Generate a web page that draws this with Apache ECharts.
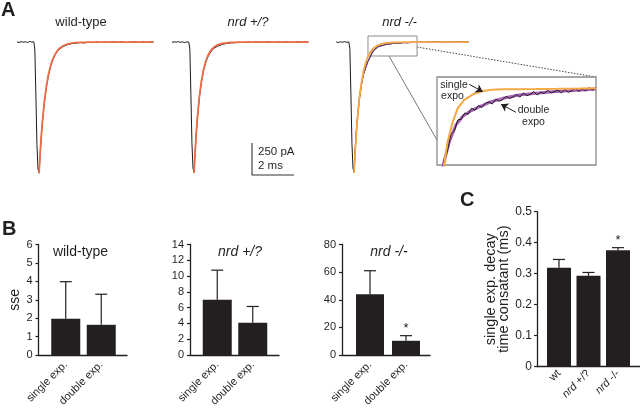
<!DOCTYPE html>
<html><head><meta charset="utf-8">
<script src="https://cdn.jsdelivr.net/npm/echarts/dist/echarts.min.js"></script>
<style>html,body{margin:0;padding:0;background:#fff}#c{width:640px;height:408px}</style>
</head><body><div id="c"></div>
<script>
// ---------------- DATA ----------------
// Panel A: time (ms) and current (pA) samples
const traceTime = [0, 0.1, 0.2, 0.3, 0.4, 0.5, 0.6, 0.7, 0.8, 0.85, 0.9, 0.95, 1.0, 1.05, 1.1, 1.15, 1.2, 1.3, 1.4, 1.5, 1.6, 1.7, 1.8, 1.9, 2.0, 2.2, 2.4, 2.6, 2.8, 3.0, 3.2, 3.4, 3.6, 3.8, 4.0, 4.2, 4.4, 4.6, 4.8, 5.0, 5.2, 5.4, 5.6, 5.8, 6.0, 6.2, 6.4, 6.5];
const wtData = [2, -3, 4, 0, 3, -2, 5, 1, 3, -60, -420, -800, -990, -1015, -880, -750, -645, -475, -350, -258, -190, -140, -104, -78, -58, -34, -20, -12, -8, -3, -6, 0, -4, 2, -3, 1, -2, 3, -1, 2, -3, 1, 3, -2, 2, -1, 3, 1];
const wtFit = [null, null, null, null, null, null, null, null, null, null, null, null, null, -1025, -875, -747, -638, -467, -342, -250, -183, -134, -98, -72, -52, -28, -15, -8, -4, -2, -1, 0, 0, 0, 0, 0, 0, 0, 0, 0, 0, 0, 0, 0, 0, 0, 0, 0];
const hetData = [-2, 3, 0, 4, -1, 2, -3, 2, 1, -55, -410, -790, -985, -1012, -862, -725, -612, -436, -312, -224, -162, -118, -87, -64, -48, -29, -17, -10, -6, -4, -1, -3, 1, -2, 2, -1, 0, 3, -2, 1, -1, 2, 0, -2, 3, 0, 2, 1];
const hetFit = [null, null, null, null, null, null, null, null, null, null, null, null, null, -1022, -859, -722, -608, -431, -305, -216, -153, -108, -77, -54, -38, -19, -10, -5, -2, -1, 0, 0, 0, 0, 0, 0, 0, 0, 0, 0, 0, 0, 0, 0, 0, 0, 0, 0];
const koData = [null, null, 2, -2, 3, 0, 4, -1, 2, -50, -400, -790, -985, -1018, -852, -718, -612, -447, -333, -250, -203, -152, -123, -84, -62, -33, -27, -15, -14, -6, -9, -3, -5, 0, -3, 1, -2, 2, -1, 3, 0, -2, 2, -1, 3, 0, 2, 1];
const koDoubleFit = [null, null, null, null, null, null, null, null, null, null, null, null, null, -1015, -850, -720, -610, -445, -330, -248, -200, -155, -120, -86, -60, -35, -24, -17, -12, -8.5, -6.5, -4.5, -3, -2, -1.5, -1, -0.5, -0.5, 0, 0, 0, 0, 0, 0, 0, 0, 0, 0];
const koSingleFit = [null, null, null, null, null, null, null, null, null, null, null, null, null, -1020, -863, -731, -619, -443, -318, -228, -163, -117, -84, -60, -43, -22, -11, -6, -3, -1.5, -1, 0, 0, 0, 0, 0, 0, 0, 0, 0, 0, 0, 0, 0, 0, 0, 0, 0];

// Inset (zoom on nrd -/- decay tail)
const insetSingleTime = [1.80, 1.85, 1.905, 1.977, 2.05, 2.145, 2.27, 2.41, 2.55, 2.70, 2.90, 3.18, 3.50, 3.80, 4.05];
const insetSingle = [-135, -110, -76, -48, -28, -16, -8, -3.2, -1.5, -0.8, -0.5, -0.3, 0, 0.3, 0.7];
const insetDoubleTime = [1.80, 1.84, 1.93, 2.025, 2.12, 2.22, 2.36, 2.51, 2.70, 2.94, 3.18, 3.42, 3.66, 3.91, 4.05];
const insetDouble = [-140, -110, -76, -52, -40, -33, -26, -19.5, -13.8, -9, -6.6, -4.2, -2.8, -1.3, -0.3];
const insetDataTime = [1.80, 1.85, 1.90, 1.95, 2.00, 2.05, 2.10, 2.15, 2.20, 2.25, 2.30, 2.35, 2.40, 2.45, 2.50, 2.55, 2.60, 2.65, 2.70, 2.75, 2.80, 2.85, 2.90, 2.95, 3.00, 3.05, 3.10, 3.15, 3.20, 3.25, 3.30, 3.35, 3.40, 3.45, 3.50, 3.55, 3.60, 3.65, 3.70, 3.75, 3.80, 3.85, 3.90, 3.95, 4.00, 4.05];
const insetData = [-140, -103, -90, -66, -61, -45, -44, -35, -37, -28, -31, -24, -27, -21, -19, -22, -15, -18, -16, -11, -14, -12, -8, -12, -6, -10, -8, -4, -9, -5, -7, -2, -6, -4, -2, -6, -1, -5, -3, 1, -4, 0, -3, 2, -2, 2];

// Panel B: sum of squared errors (mean, mean+SEM)
const sseCategories = ['single exp.', 'double exp.'];
const sseWt = [1.97, 1.64], sseWtErr = [3.98, 3.3], sseWtSig = [0, 0];
const sseHet = [7.0, 4.1], sseHetErr = [10.75, 6.15], sseHetSig = [0, 0];
const sseKo = [44, 10.3], sseKoErr = [61, 14], sseKoSig = [0, 1];
const sseWtTicks = {max: 6, step: 1};
const sseHetTicks = {max: 14, step: 2};
const sseKoTicks = {max: 80, step: 20};

// Panel C: single exponential decay time constant (ms)
const tauCategories = ['wt', 'nrd +/?', 'nrd -/-'];
const tauValues = [0.319, 0.293, 0.376];
const tauErr = [0.346, 0.304, 0.384];
const tauSig = [0, 0, 1];
const tauTicks = {max: 0.5, step: 0.1};

// Scale bar sizes
const scaleBar = {ms: 2, pA: 250};

// ---------------- LAYOUT / STYLE ----------------
const FONT = '"Liberation Sans", Arial, Helvetica, sans-serif';
const INK = '#231f20';
const FIT_RED = '#ee6b47';
const FIT_ORANGE = '#f5a843';
const FIT_PURPLE = '#a963b8';
const TRACE_X = {min: 0, max: 6.5};
const TRACE_Y = {min: -1060, max: 95};
const INSET_X = {min: 1.75, max: 4.05};
const INSET_Y = {min: -110, max: 17};
const ZOOM_BOX = {t0: 1.714, t1: 4.05, v0: -108, v1: 48};
const SCALE_ORIGIN = {t: 3.81, pA: -1037};

const zip = (xs, ys) => xs.map((x, i) => [x, ys[i] === null ? '-' : ys[i]]);

const chart = echarts.init(document.getElementById('c'), null, {renderer: 'canvas'});

const G = (left, top, width, height, extra) => Object.assign({left, top, width, height, outerBoundsMode: 'none', containLabel: false}, extra || {});
const grids = [
  G(17, 30, 136.5, 148),
  G(172, 30, 136.5, 148),
  G(332, 30, 136.5, 148),
  G(437, 77, 159, 88, {show: true, backgroundColor: '#fff', borderColor: '#8a8a8a', borderWidth: 1.3}),
  G(38.5, 244.5, 88.5, 110.5),
  G(190, 244.5, 89, 110.5),
  G(342, 244.5, 88, 110.5),
  G(48, 244.5, 71, 110.5),
  G(199.5, 244.5, 71, 110.5),
  G(352, 244.5, 72, 110.5),
  G(537, 211.7, 103, 155),
  G(544.25, 211.7, 88.5, 155)
];

const hiddenVal = (gi, r) => ({type: 'value', gridIndex: gi, min: r.min, max: r.max, show: false});
const lineAx = {show: true, lineStyle: {color: INK, width: 1.3}};

const frameX = gi => ({type: 'value', gridIndex: gi, min: 0, max: 1, axisLine: lineAx, axisTick: {show: false}, axisLabel: {show: false}, splitLine: {show: false}});
const frameY = (gi, t, extra) => Object.assign({type: 'value', gridIndex: gi, min: 0, max: t.max, interval: t.step,
  axisLine: lineAx, axisTick: {show: true, length: 3, lineStyle: {color: INK, width: 1.2}},
  axisLabel: {color: INK, fontFamily: FONT, fontSize: 11, margin: 6}, splitLine: {show: false}}, extra || {});
const barsX = (gi, cats, fs, margin, fmt) => ({type: 'category', gridIndex: gi, data: cats, axisLine: {show: false}, axisTick: {show: false},
  axisLabel: {rotate: 45, color: INK, fontFamily: FONT, fontSize: fs, margin, interval: 0, formatter: fmt,
    rich: {i: {fontStyle: 'italic', fontFamily: FONT, fontSize: fs, color: INK}, n: {fontFamily: FONT, fontSize: fs, color: INK}}}});
const barsY = (gi, t) => ({type: 'value', gridIndex: gi, min: 0, max: t.max, show: false});

const xAxis = [
  hiddenVal(0, TRACE_X), hiddenVal(1, TRACE_X), hiddenVal(2, TRACE_X), hiddenVal(3, INSET_X),
  frameX(4), frameX(5), frameX(6),
  barsX(7, sseCategories, 11, 8), barsX(8, sseCategories, 11, 8), barsX(9, sseCategories, 11, 8),
  frameX(10),
  barsX(11, tauCategories, 11, 5, v => v.indexOf('nrd') === 0 ? '{i|nrd}{n|' + v.slice(3) + '}' : '{n|' + v + '}')
];
const yAxis = [
  hiddenVal(0, TRACE_Y), hiddenVal(1, TRACE_Y), hiddenVal(2, TRACE_Y), hiddenVal(3, INSET_Y),
  frameY(4, sseWtTicks, {name: 'sse', nameLocation: 'middle', nameRotate: 90, nameGap: 16, nameTextStyle: {color: INK, fontFamily: FONT, fontSize: 14}}),
  frameY(5, sseHetTicks), frameY(6, sseKoTicks),
  barsY(7, sseWtTicks), barsY(8, sseHetTicks), barsY(9, sseKoTicks),
  frameY(10, tauTicks, {axisLabel: {color: INK, fontFamily: FONT, fontSize: 12, margin: 5},
    name: 'single exp. decay\ntime consatant (ms)', nameLocation: 'middle', nameRotate: 90, nameGap: 27,
    nameTextStyle: {color: INK, fontFamily: FONT, fontSize: 14.5, lineHeight: 13}}),
  barsY(11, tauTicks)
];

const traceLine = (ai, xs, ys, color, width, extra) => Object.assign({
  type: 'line', xAxisIndex: ai, yAxisIndex: ai, data: zip(xs, ys), symbol: 'none', showSymbol: false,
  lineStyle: {color, width}, silent: true, clip: true
}, extra || {});

function errorRenderer(cap) {
  return function (params, api) {
    const i = api.value(0);
    const a = api.coord([i, api.value(1)]);
    const b = api.coord([i, api.value(2)]);
    const st = {stroke: INK, lineWidth: 1.2};
    const kids = [
      {type: 'line', shape: {x1: a[0], y1: a[1], x2: b[0], y2: b[1]}, style: st},
      {type: 'line', shape: {x1: b[0] - cap / 2, y1: b[1], x2: b[0] + cap / 2, y2: b[1]}, style: st}
    ];
    if (api.value(3)) {
      kids.push({type: 'text', x: b[0], y: b[1] - 1, style: {text: '*', font: '13px ' + FONT, fill: INK,
        align: 'center', verticalAlign: 'bottom', textAlign: 'center', textVerticalAlign: 'bottom'}});
    }
    return {type: 'group', children: kids};
  };
}
const barSeries = (ai, vals, bw) => ({type: 'bar', xAxisIndex: ai, yAxisIndex: ai, data: vals, barWidth: bw, silent: true,
  itemStyle: {color: INK}});
const errSeries = (ai, vals, errs, sig, cap) => ({type: 'custom', xAxisIndex: ai, yAxisIndex: ai, silent: true,
  renderItem: errorRenderer(cap), encode: {x: 0, y: 2},
  data: vals.map((v, i) => [i, v, errs[i], sig[i]]), z: 3});

const series = [
  traceLine(0, traceTime, wtData, '#1a1a1a', 1),
  traceLine(0, traceTime, wtFit, FIT_RED, 1.8),
  traceLine(1, traceTime, hetData, '#1a1a1a', 1),
  traceLine(1, traceTime, hetFit, FIT_RED, 1.8),
  // scale bar
  traceLine(1, [SCALE_ORIGIN.t, SCALE_ORIGIN.t, SCALE_ORIGIN.t + scaleBar.ms],
    [SCALE_ORIGIN.pA + scaleBar.pA, SCALE_ORIGIN.pA, SCALE_ORIGIN.pA], '#333', 1.1),
  traceLine(2, traceTime, koData, '#1a1a1a', 1, {
    markArea: {silent: true, itemStyle: {color: 'rgba(0,0,0,0)', borderColor: '#8a8a8a', borderWidth: 1},
      data: [[{coord: [ZOOM_BOX.t0, ZOOM_BOX.v1]}, {coord: [ZOOM_BOX.t1, ZOOM_BOX.v0]}]]}
  }),
  traceLine(2, traceTime, koDoubleFit, '#6b3a78', 1.2),
  traceLine(2, traceTime, koSingleFit, FIT_ORANGE, 1.8),
  // inset
  traceLine(3, insetDoubleTime, insetDouble, FIT_PURPLE, 3),
  traceLine(3, insetDataTime, insetData, '#1a1a1a', 1),
  traceLine(3, insetSingleTime, insetSingle, FIT_ORANGE, 2, {
    markLine: {silent: true, symbol: ['none', 'arrow'], symbolSize: 7, animation: false,
      lineStyle: {color: INK, width: 1, type: 'solid'}, label: {show: false},
      data: [[{coord: [2.217, 6.5]}, {coord: [2.411, -4.2]}], [{coord: [2.893, -34]}, {coord: [2.676, -22.4]}]]}
  }),
  barSeries(7, sseWt, 29), errSeries(7, sseWt, sseWtErr, sseWtSig, 12),
  barSeries(8, sseHet, 29), errSeries(8, sseHet, sseHetErr, sseHetSig, 12),
  barSeries(9, sseKo, 28), errSeries(9, sseKo, sseKoErr, sseKoSig, 12),
  barSeries(11, tauValues, 24), errSeries(11, tauValues, tauErr, tauSig, 12)
];

const txt = (text, x, y, size, opts) => Object.assign({type: 'text', x, y, silent: true,
  style: Object.assign({text, font: size + 'px ' + FONT, fill: INK, align: 'center', verticalAlign: 'middle',
    textAlign: 'center', textVerticalAlign: 'middle'}, (opts && opts.style) || {})}, {});

const graphics = [
  txt('A', 1, 10, 20, {style: {font: 'bold 20px ' + FONT, align: 'left', textAlign: 'left'}}),
  txt('B', 2, 229, 20, {style: {font: 'bold 20px ' + FONT, align: 'left', textAlign: 'left'}}),
  txt('C', 460, 200, 20, {style: {font: 'bold 20px ' + FONT, align: 'left', textAlign: 'left'}}),
  txt('wild-type', 81, 22, 13),
  txt('nrd +/?', 248, 22, 13, {style: {font: 'italic 13px ' + FONT}}),
  txt('nrd -/-', 399.5, 22, 13, {style: {font: 'italic 13px ' + FONT}}),
  txt('250 pA', 258, 151.5, 11.5, {style: {align: 'left', textAlign: 'left'}}),
  txt('2 ms', 258, 165.5, 11.5, {style: {align: 'left', textAlign: 'left'}}),
  txt('single', 454, 85, 10.5),
  txt('expo', 452.5, 96.5, 10.5),
  txt('double', 533.5, 110.5, 10.5),
  txt('expo', 533.5, 122, 10.5),
  txt('wild-type', 80.5, 252, 14),
  txt('nrd +/?', 240, 252, 14, {style: {font: 'italic 14px ' + FONT}}),
  txt('nrd -/-', 389, 252, 14, {style: {font: 'italic 14px ' + FONT}})
];

chart.setOption({
  animation: false,
  backgroundColor: '#fff',
  textStyle: {fontFamily: FONT},
  grid: grids, xAxis, yAxis, series, graphic: graphics
});

// connector lines from the zoom box to the inset, positioned through the axes
const p1 = chart.convertToPixel({xAxisIndex: 2, yAxisIndex: 2}, [ZOOM_BOX.t1, -38]);
const p2 = chart.convertToPixel({xAxisIndex: 3, yAxisIndex: 3}, [INSET_X.max, INSET_Y.max]);
const p3 = chart.convertToPixel({xAxisIndex: 2, yAxisIndex: 2}, [2.714, ZOOM_BOX.v0]);
const p4 = chart.convertToPixel({xAxisIndex: 3, yAxisIndex: 3}, [INSET_X.min, -74]);
chart.setOption({graphic: graphics.concat([
  {type: 'line', silent: true, z: -1, shape: {x1: p1[0], y1: p1[1], x2: p2[0], y2: p2[1]}, style: {stroke: '#444', lineWidth: 1, lineDash: [1.5, 1.5]}},
  {type: 'line', silent: true, z: -1, shape: {x1: p3[0], y1: p3[1], x2: p4[0], y2: p4[1]}, style: {stroke: '#777', lineWidth: 1}}
])});
</script>
</body></html>
